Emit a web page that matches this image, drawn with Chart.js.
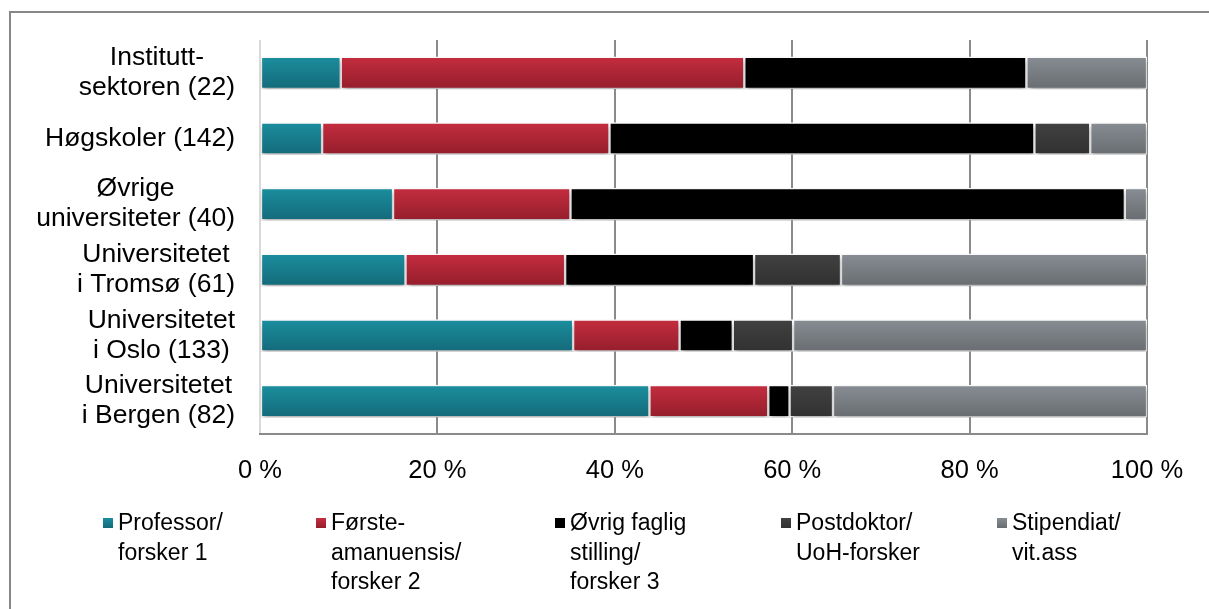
<!DOCTYPE html>
<html>
<head>
<meta charset="utf-8">
<script src="https://cdn.jsdelivr.net/npm/chart.js@4.4.1/dist/chart.umd.min.js"></script>
<style>
  html, body { margin: 0; padding: 0; background: #fff; }
  #wrap { position: relative; width: 1209px; height: 609px; overflow: hidden;
          font-family: "Liberation Sans", Arial, sans-serif; }
  #frame { position: absolute; left: 9px; top: 11px; right: -10px; bottom: -10px;
           border-left: 2px solid #878787; border-top: 2px solid #878787; }
  #chart { position: absolute; left: 0; top: 0; }
  #legend { position: absolute; left: 0; top: 508px; width: 1209px; height: 100px; }
  .item { position: absolute; top: 0; font-size: 23px; line-height: 29.5px; color: #000; white-space: nowrap; }
  .box { position: absolute; left: -15px; top: 10px; width: 10px; height: 10px; }
</style>
</head>
<body>
<div id="wrap">
  <div id="frame"></div>
  <canvas id="chart" width="1209" height="609"></canvas>
  <div id="legend"></div>
</div>
<script>
// categories (top to bottom) and share of staff per position type, in %
const categories = [
  ['Institutt-', 'sektoren (22)'],
  'Høgskoler (142)',
  ['Øvrige', 'universiteter (40)'],
  ['Universitetet', 'i Tromsø (61)'],
  ['Universitetet', 'i Oslo (133)'],
  ['Universitetet', 'i Bergen (82)'],
];
const seriesNames = [
  ['Professor/', 'forsker 1'],
  ['Første-', 'amanuensis/', 'forsker 2'],
  ['Øvrig faglig', 'stilling/', 'forsker 3'],
  ['Postdoktor/', 'UoH-forsker'],
  ['Stipendiat/', 'vit.ass'],
];
const professor = [9.1, 7.0, 15.0, 16.4, 35.3, 43.9];
const forsteAman = [45.5, 32.4, 20.0, 18.0, 12.0, 13.4];
const ovrigFaglig = [31.8, 47.9, 62.5, 21.3, 6.0, 2.4];
const postdoktor = [0, 6.3, 0, 9.8, 6.8, 4.9];
const stipendiat = [13.6, 6.4, 2.5, 34.5, 39.9, 35.4];
const xTicks = [0, 20, 40, 60, 80, 100];

// top / bottom gradient colours per series
const PALETTE = [
  ['#1b8e9e', '#146a79'],
  ['#c42d3f', '#951e2c'],
  ['#000000', '#000000'],
  ['#414141', '#313131'],
  ['#878d93', '#696d71'],
];
const LEGEND_X = [118, 331, 570, 796, 1012];
const FONT = '"Liberation Sans", Arial, sans-serif';

function barGradient(top, bottom) {
  return (c) => {
    const y = c.chart.scales.y;
    if (!y || c.dataIndex === undefined) return top;
    const py = y.getPixelForValue(c.dataIndex);
    if (!Number.isFinite(py)) return top;
    const g = c.chart.ctx.createLinearGradient(0, py - 16, 0, py + 16);
    g.addColorStop(0, top);
    g.addColorStop(1, bottom);
    return g;
  };
}

// soft drop shadow under the bars
const barShadow = {
  id: 'barShadow',
  beforeDatasetsDraw(chart) {
    const c = chart.ctx;
    c.save();
    c.shadowColor = 'rgba(0,0,0,0.32)';
    c.shadowBlur = 5;
    c.shadowOffsetX = 1;
    c.shadowOffsetY = 3;
  },
  afterDatasetsDraw(chart) {
    chart.ctx.restore();
  },
};

// category labels: block right-aligned, lines centred inside the block
const blockLabels = {
  id: 'blockLabels',
  afterDraw(chart) {
    const { ctx, scales: { y } } = chart;
    ctx.save();
    ctx.font = '26.5px ' + FONT;
    ctx.fillStyle = '#000';
    ctx.textAlign = 'center';
    ctx.textBaseline = 'middle';
    const right = y.right - 25;
    categories.forEach((lab, i) => {
      const lines = Array.isArray(lab) ? lab : [lab];
      const w = Math.max(...lines.map((l) => ctx.measureText(l).width));
      const cx = right - w / 2;
      const cy = y.getPixelForValue(i);
      lines.forEach((l, k) => {
        ctx.fillText(l, cx, cy + (k - (lines.length - 1) / 2) * 30);
      });
    });
    ctx.restore();
  },
};

const seriesData = [professor, forsteAman, ovrigFaglig, postdoktor, stipendiat];
const datasets = seriesData.map((data, i) => ({
  label: seriesNames[i].join(' '),
  data,
  backgroundColor: barGradient(PALETTE[i][0], PALETTE[i][1]),
  borderColor: '#ffffff',
  borderWidth: 1.5,
  borderSkipped: false,
  barThickness: 32,
}));

new Chart(document.getElementById('chart'), {
  type: 'bar',
  data: { labels: categories, datasets },
  options: {
    indexAxis: 'y',
    responsive: false,
    animation: false,
    layout: { padding: { top: 40, right: 62, left: 0, bottom: 0 } },
    plugins: { legend: { display: false }, tooltip: { enabled: false } },
    scales: {
      x: {
        stacked: true,
        min: 0,
        max: 100,
        afterBuildTicks: (s) => { s.ticks = xTicks.map((v) => ({ value: v })); },
        afterFit: (s) => { s.height = 175; },
        grid: {
          color: (c) => (c.tick && c.tick.value === 0 ? '#d9d9d9' : '#8a8a8a'),
          lineWidth: 2,
          drawTicks: false,
        },
        border: { display: true, color: '#8a8a8a', width: 2 },
        ticks: {
          color: '#000',
          padding: 22,
          font: { size: 25.5, family: FONT },
          callback: (v) => v + ' %',
        },
      },
      y: {
        stacked: true,
        grid: { display: false },
        border: { display: false },
        ticks: { display: false },
        afterFit: (s) => { s.width = 260; },
      },
    },
  },
  plugins: [barShadow, blockLabels],
});

// legend
const legend = document.getElementById('legend');
seriesNames.forEach((lines, i) => {
  const item = document.createElement('div');
  item.className = 'item';
  item.style.left = LEGEND_X[i] + 'px';
  item.innerHTML = lines.join('<br>');
  const box = document.createElement('span');
  box.className = 'box';
  box.style.background = 'linear-gradient(' + PALETTE[i][0] + ',' + PALETTE[i][1] + ')';
  item.appendChild(box);
  legend.appendChild(item);
});
</script>
</body>
</html>
